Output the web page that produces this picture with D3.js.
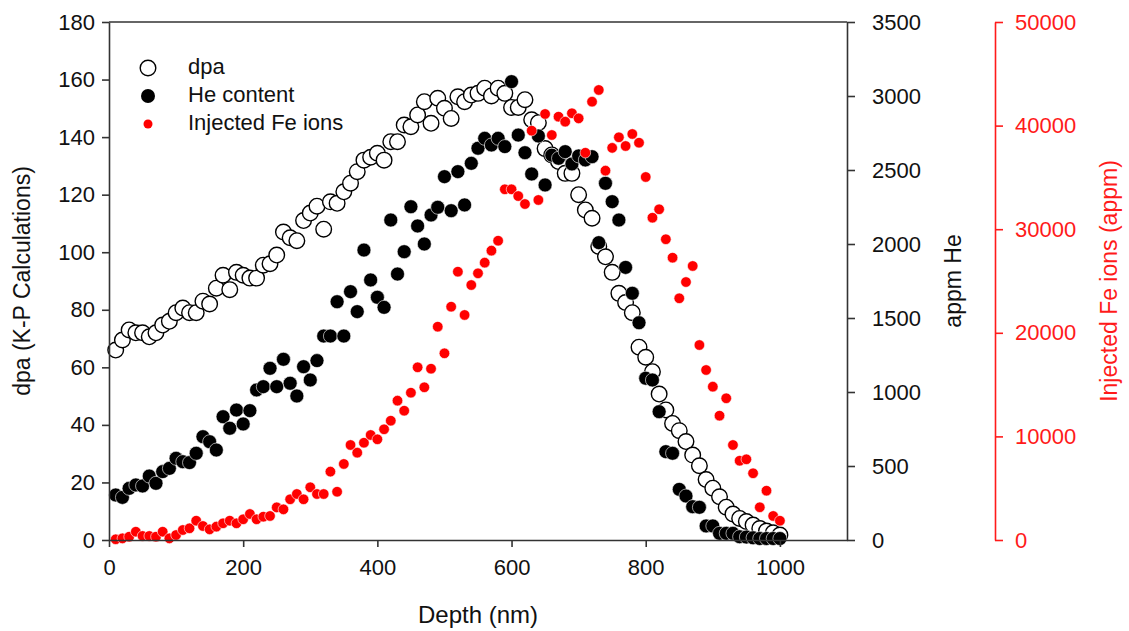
<!DOCTYPE html>
<html>
<head>
<meta charset="utf-8">
<script src="https://cdn.jsdelivr.net/npm/d3@7"></script>
<style>
  body { margin: 0; background: #fff; }
  svg { font-family: "Liberation Sans", Arial, sans-serif; }
  .axis path, .axis line { stroke: #333; stroke-width: 1.6; }
  .axis text { fill: #111; font-size: 22px; }
  .red path, .red line { stroke: #ff1a1a; }
  .red text { fill: #ff1a1a; }
</style>
</head>
<body>
<div id="chart"></div>
<script>
// depth (nm)
const depth = [10, 20, 30, 40, 50, 60, 70, 80, 90, 100,
  110, 120, 130, 140, 150, 160, 170, 180, 190, 200,
  210, 220, 230, 240, 250, 260, 270, 280, 290, 300,
  310, 320, 330, 340, 350, 360, 370, 380, 390, 400,
  410, 420, 430, 440, 450, 460, 470, 480, 490, 500,
  510, 520, 530, 540, 550, 560, 570, 580, 590, 600,
  610, 620, 630, 640, 650, 660, 670, 680, 690, 700,
  710, 720, 730, 740, 750, 760, 770, 780, 790, 800,
  810, 820, 830, 840, 850, 860, 870, 880, 890, 900,
  910, 920, 930, 940, 950, 960, 970, 980, 990, 1000];

// dpa (K-P), left axis
const dpa = [66, 69.5, 73, 72, 72, 70.6, 72, 74.7, 76, 79,
  80.6, 79, 79, 83, 82, 87.5, 92, 87, 93, 92,
  91, 91, 95.5, 96, 99, 107, 105, 104, 111, 113.6,
  116, 108, 117.5, 117, 121, 124, 128, 132, 133, 134.4,
  132, 138.4, 138.4, 144.2, 143.6, 147.7, 152.3, 144.8, 153.5, 150,
  146.5, 154, 152.3, 154.6, 155.2, 157, 154.3, 157, 155.2, 150.3,
  150.3, 153, 146, 145, 136, 133.8, 131.5, 127.4, 127.4, 120,
  114.7, 111.8, 102, 98.4, 93, 85.7, 82.5, 79, 67, 63.5,
  58.5, 50.7, 45.2, 40.5, 38, 34.2, 29.5, 25.8, 21, 18,
  15, 11.4, 9, 7.5, 6.4, 5.2, 4, 3.1, 2.5, 1.7];

// He content (appm), first right axis
const heContent = [304, 288, 349, 372, 365, 432, 383, 462, 484, 552,
  529, 523, 586, 698, 664, 608, 833, 755, 878, 784,
  874, 1014, 1036, 1160, 1036, 1221, 1059, 973, 1171, 1081,
  1212, 1378, 1378, 1610, 1378, 1678, 1543, 1959, 1757, 1640,
  1572, 2162, 1797, 1948, 2252, 2122, 2000, 2196, 2248, 2455,
  2225, 2489, 2264, 2545, 2647, 2714, 2669, 2714, 2658, 3097,
  2736, 2617, 2473, 2730, 2399, 2600, 2579, 2624, 2541, 2595,
  2568, 2590, 2009, 2410, 2286, 2162, 1842, 1667, 1468, 1093,
  1081, 867, 597, 586, 342, 297, 225, 221, 95, 95,
  45, 45, 45, 22, 20, 15, 10, 10, 10, 10];

// injected Fe ions (appm), second right axis
const feIons = [70, 160, 320, 800, 390, 390, 320, 800, 160, 480,
  965, 1130, 1865, 1350, 1030, 1290, 1610, 1865, 1610, 2000,
  2510, 2000, 2250, 2320, 3150, 2960, 3930, 4440, 3930, 5090,
  4440, 4440, 6600, 4660, 7340, 9170, 8430, 9390, 10135, 9720,
  10685, 11515, 13450, 12480, 14220, 16670, 14740, 16535, 20590, 18020,
  22520, 25900, 21720, 24610, 25740, 26770, 27930, 28890, 33850, 33850,
  33200, 32430, 39510, 32820, 41120, 39090, 40860, 40380, 41190, 40700,
  37380, 42310, 43440, 35650, 37850, 38870, 38030, 39190, 38350, 35040,
  31110, 31920, 29030, 27250, 23330, 24900, 26450, 18820, 16410, 14800,
  12000, 13680, 9170, 7650, 7790, 6440, 3160, 4760, 2320, 1860];

const xTicks = [0, 200, 400, 600, 800, 1000];
const dpaTicks = [0, 20, 40, 60, 80, 100, 120, 140, 160, 180];
const heTicks = [0, 500, 1000, 1500, 2000, 2500, 3000, 3500];
const feTicks = [0, 10000, 20000, 30000, 40000, 50000];

const width = 1129;
const height = 631;
const margin = { top: 22, right: 282, bottom: 91, left: 109 };
const plot = {
  left: margin.left,
  right: width - margin.right,
  top: margin.top,
  bottom: height - margin.bottom,
};
const redAxisX = 995;
const fmt = d3.format('d');

const svg = d3.select('#chart').append('svg')
  .attr('width', width)
  .attr('height', height);

const x = d3.scaleLinear().domain([0, 1100]).range([plot.left, plot.right]);
const yDpa = d3.scaleLinear().domain([0, 180]).range([plot.bottom, plot.top]);
const yHe = d3.scaleLinear().domain([0, 3500]).range([plot.bottom, plot.top]);
const yFe = d3.scaleLinear().domain([0, 50000]).range([plot.bottom, plot.top]);

// frame top line
svg.append('line')
  .attr('x1', plot.left).attr('x2', plot.right)
  .attr('y1', plot.top).attr('y2', plot.top)
  .attr('stroke', '#333').attr('stroke-width', 1.6);

// points: dpa first, then He, then Fe on top
svg.append('g').selectAll('circle')
  .data(depth)
  .join('circle')
  .attr('cx', (d) => x(d))
  .attr('cy', (d, i) => yDpa(dpa[i]))
  .attr('r', 7.8)
  .attr('fill', '#fff')
  .attr('stroke', '#000')
  .attr('stroke-width', 1.4);

svg.append('g').selectAll('circle')
  .data(depth)
  .join('circle')
  .attr('cx', (d) => x(d))
  .attr('cy', (d, i) => yHe(heContent[i]))
  .attr('r', 7)
  .attr('fill', '#000')
  .attr('stroke', '#fff')
  .attr('stroke-width', 0.6);

svg.append('g').selectAll('circle')
  .data(depth)
  .join('circle')
  .attr('cx', (d) => x(d))
  .attr('cy', (d, i) => yFe(feIons[i]))
  .attr('r', 5.3)
  .attr('fill', '#ff0000')
  .attr('stroke', '#fff')
  .attr('stroke-width', 0.6);

// axes
svg.append('g')
  .attr('class', 'axis')
  .attr('transform', `translate(0, ${plot.bottom})`)
  .call(d3.axisBottom(x).tickValues(xTicks).tickFormat(fmt).tickSize(7).tickPadding(12).tickSizeOuter(0))
  .call((g) => g.selectAll('text').attr('dy', '0.71em'));

svg.append('g')
  .attr('class', 'axis')
  .attr('transform', `translate(${plot.left}, 0)`)
  .call(d3.axisLeft(yDpa).tickValues(dpaTicks).tickFormat(fmt).tickSize(7).tickPadding(7).tickSizeOuter(0));

svg.append('g')
  .attr('class', 'axis')
  .attr('transform', `translate(${plot.right}, 0)`)
  .call(d3.axisRight(yHe).tickValues(heTicks).tickFormat(fmt).tickSize(8).tickPadding(17).tickSizeOuter(0));

svg.append('g')
  .attr('class', 'axis red')
  .attr('transform', `translate(${redAxisX}, 0)`)
  .call(d3.axisRight(yFe).tickValues(feTicks).tickFormat(fmt).tickSize(8).tickPadding(12).tickSizeOuter(0));

svg.selectAll('.axis .domain').attr('stroke-width', 1.6);

// axis titles
svg.append('text')
  .attr('x', (plot.left + plot.right) / 2)
  .attr('y', 617)
  .attr('text-anchor', 'middle')
  .attr('dominant-baseline', 'middle')
  .style('font-size', '24px')
  .attr('fill', '#111')
  .text('Depth (nm)');

const midY = (plot.top + plot.bottom) / 2;

svg.append('text')
  .attr('transform', `translate(24, ${midY}) rotate(-90)`)
  .attr('text-anchor', 'middle')
  .attr('dominant-baseline', 'middle')
  .style('font-size', '23px')
  .attr('fill', '#111')
  .text('dpa (K-P Calculations)');

svg.append('text')
  .attr('transform', `translate(955, ${midY}) rotate(-90)`)
  .attr('text-anchor', 'middle')
  .attr('dominant-baseline', 'middle')
  .style('font-size', '23px')
  .attr('fill', '#111')
  .text('appm He');

svg.append('text')
  .attr('transform', `translate(1111, ${midY}) rotate(-90)`)
  .attr('text-anchor', 'middle')
  .attr('dominant-baseline', 'middle')
  .style('font-size', '23px')
  .attr('fill', '#ff1a1a')
  .text('Injected Fe ions (appm)');

// legend
const legendItems = ['dpa', 'He content', 'Injected Fe ions'];
const legend = svg.append('g').attr('transform', 'translate(148, 68)');
legendItems.forEach((name, i) => {
  const row = legend.append('g').attr('transform', `translate(0, ${i * 28})`);
  if (i === 0) {
    row.append('circle').attr('r', 7.8).attr('fill', '#fff').attr('stroke', '#000').attr('stroke-width', 1.4);
  } else if (i === 1) {
    row.append('circle').attr('r', 7).attr('fill', '#000');
  } else {
    row.append('circle').attr('r', 4.5).attr('fill', '#ff0000');
  }
  row.append('text')
    .attr('x', 40)
    .attr('dominant-baseline', 'middle')
    .style('font-size', '22px')
    .attr('fill', '#111')
    .text(name);
});
</script>
</body>
</html>
